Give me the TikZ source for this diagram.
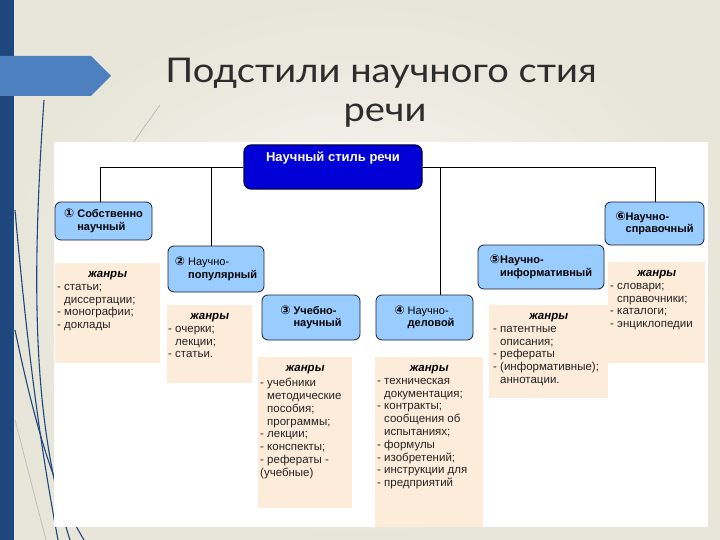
\documentclass[tikz,border=0pt]{standalone}
\usepackage{fontspec}
\setmainfont{Liberation Sans}
\newfontfamily\titlefont[FakeStretch=1.12]{Lato}
\newfontfamily\numfont{DejaVu Sans}
\usetikzlibrary{positioning}

\definecolor{bgbeige}{RGB}{232,229,217}
\definecolor{bglight}{RGB}{248,247,243}
\definecolor{bandnavy}{RGB}{30,72,125}
\definecolor{arrowblue}{RGB}{76,128,190}
\definecolor{titlegrey}{RGB}{45,45,45}
\definecolor{mainblue}{RGB}{0,0,215}
\definecolor{mainedge}{RGB}{0,0,80}
\definecolor{subblue}{RGB}{153,204,255}
\definecolor{subedge}{RGB}{30,30,50}
\definecolor{genrecream}{RGB}{253,236,218}
\definecolor{genreink}{RGB}{35,35,35}

\newcommand{\cnum}[1]{{\numfont\fontsize{12}{12}\selectfont#1}}
\newcommand{\ind}{\hphantom{- }}

\begin{document}
\begin{tikzpicture}[x=1pt, y=-1pt,
		titletext/.style={font=\titlefont\fontsize{34}{40}\selectfont, text=titlegrey, anchor=base, inner sep=0pt},
		mainbox/.style={draw=mainedge, fill=mainblue, rounded corners=7pt, line width=1.2pt, minimum width=178pt, minimum height=44pt},
		sub/.style={draw=subedge, fill=subblue, rounded corners=6pt, line width=0.8pt, align=left, inner sep=2pt, font=\bfseries\fontsize{11}{12.5}\selectfont},
		genre/.style={fill=genrecream, anchor=north west, inner sep=0pt},
		genrehead/.style={font=\bfseries\itshape\fontsize{11.5}{12}\selectfont, inner sep=0pt},
		genretext/.style={anchor=north west, align=left, inner sep=0pt, text=genreink, font=\fontsize{11.5}{12.8}\selectfont},
		link/.style={draw=black, line width=0.8pt},
		decor/.style={draw=bandnavy, line width=1.1pt}
		]
		
		\useasboundingbox (0,0) rectangle (720,540);
		
		% Slide background
		\shade[inner color=bglight, outer color=bgbeige] (0,0) rectangle (720,540);
		\fill[bandnavy] (0,0) rectangle (14,540);
		\draw[decor] (44,100) .. controls (30,300) and (35,430) .. (70,540);
		\draw[decor] (15,210) .. controls (30,380) and (45,470) .. (58,540);
		\draw[decor] (15,330) .. controls (40,450) and (60,500) .. (84,540);
		\draw[gray!60, line width=0.6pt] (160,105) -- (128,150);
		\draw[gray!50, line width=0.8pt] (15,420) .. controls (30,480) .. (46,540);
		\fill[arrowblue] (0,56) -- (91,56) -- (111,76) -- (91,96) -- (0,96) -- cycle;
		
		% Title
		\node[titletext] (title1) at (381,83) {Подстили научного стия};
		\node[titletext] (title2) at (385,122) {речи};
		
		% Panel
		\fill[white] (54,142) rectangle (708,527);
		
		% Main style
		\node[mainbox] (top) at (333,167) {};
		\node[font=\bfseries\fontsize{13}{15}\selectfont, text=white] (toptext) at (333,158) {Научный стиль речи};
		
		% Substyles
		\node[sub, minimum width=97pt, minimum height=38pt] (b1) at (103.5,221)
		{\cnum{①} Собственно\\\hphantom{\cnum{①} }научный};
		\node[sub, minimum width=96pt, minimum height=46pt] (b2) at (216,269)
		{\cnum{②} {\mdseries Научно-}\\\hphantom{\cnum{②} }популярный};
		\node[sub, minimum width=98pt, minimum height=45pt] (b3) at (311,317.5)
		{\cnum{③} Учебно-\\\hphantom{\cnum{③} }научный};
		\node[sub, minimum width=97pt, minimum height=45pt] (b4) at (424.5,317.5)
		{\cnum{④} {\mdseries Научно-}\\\hphantom{\cnum{④} }деловой};
		\node[sub, minimum width=126pt, minimum height=44pt] (b5) at (541,267)
		{\cnum{⑤}Научно-\\\hphantom{\cnum{⑤}}информативный};
		\node[sub, minimum width=99pt, minimum height=43pt] (b6) at (654.5,223.5)
		{\cnum{⑥}Научно-\\\hphantom{\cnum{⑥}}справочный};
		
		% Connectors
		\coordinate (j1) at (100,167);
		\coordinate (j2) at (211,167);
		\coordinate (j4) at (440,167);
		\coordinate (j6) at (655,167);
		\draw[link] (top.west) -- (j1) -- (j1 |- b1.north);
		\draw[link] (j2) -- (j2 |- b2.north);
		\draw[link] (top.east) -- (j6) -- (j6 |- b6.north);
		\draw[link] (j4) -- (j4 |- b4.north);
		
		% Genres
		\node[genre, minimum width=105pt, minimum height=100pt] (g1) at (55,263) {};
		\node[genrehead, below=8pt of g1.north] (g1h) {жанры};
		\node[genretext] (g1t) at ([xshift=2pt, yshift=-4pt]g1.west |- g1h.south)
		{- статьи;\\\ind диссертации;\\- монографии;\\- доклады};
		
		\node[genre, minimum width=85pt, minimum height=78pt] (g2) at (167,305) {};
		\node[genrehead, below=8pt of g2.north] (g2h) {жанры};
		\node[genretext] (g2t) at ([xshift=1pt, yshift=-4pt]g2.west |- g2h.south)
		{- очерки;\\\ind лекции;\\- статьи.};
		
		\node[genre, minimum width=94pt, minimum height=151pt] (g3) at (258,357) {};
		\node[genrehead, below=8pt of g3.north] (g3h) {жанры};
		\node[genretext] (g3t) at ([xshift=2pt, yshift=-4pt]g3.west |- g3h.south)
		{- учебники\\\ind методические\\\ind пособия;\\\ind программы;\\- лекции;\\- конспекты;\\- рефераты -\\(учебные)};
		
		\node[genre, minimum width=108pt, minimum height=170pt] (g4) at (375,357) {};
		\node[genrehead, below=8pt of g4.north] (g4h) {жанры};
		\node[genretext] (g4t) at ([xshift=2pt, yshift=-4pt]g4.west |- g4h.south)
		{- техническая\\\ind документация;\\- контракты;\\\ind сообщения об\\\ind испытаниях;\\- формулы\\- изобретений;\\- инструкции для\\- предприятий};
		
		\node[genre, minimum width=119pt, minimum height=93pt] (g5) at (489,305) {};
		\node[genrehead, below=8pt of g5.north] (g5h) {жанры};
		\node[genretext] (g5t) at ([xshift=4pt, yshift=-4pt]g5.west |- g5h.south)
		{- патентные\\\ind описания;\\- рефераты\\- (информативные);\\\ind аннотации.};
		
		\node[genre, minimum width=97pt, minimum height=101pt] (g6) at (608,262) {};
		\node[genrehead, below=8pt of g6.north] (g6h) {жанры};
		\node[genretext] (g6t) at ([xshift=2pt, yshift=-4pt]g6.west |- g6h.south)
		{- словари;\\\ind справочники;\\- каталоги;\\- энциклопедии};
		
	\end{tikzpicture}
\end{document}
